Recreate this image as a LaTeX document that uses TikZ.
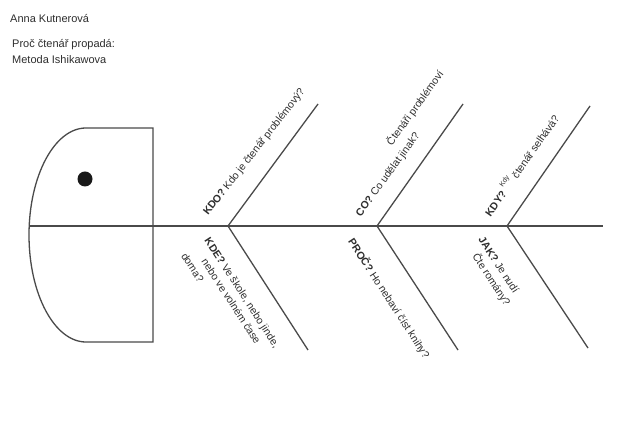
\documentclass[tikz,border=0pt]{standalone}
\usepackage{fontspec}
\setmainfont{Liberation Sans}
\definecolor{linegray}{HTML}{4A4A4A}
\definecolor{inkgray}{HTML}{2E2E2E}
\begin{document}
\begin{tikzpicture}[x=1pt,y=1pt,
  bone/.style={draw=linegray, line width=1.3pt},
  lbl/.style={text=inkgray, inner sep=1pt, align=left,
    font=\fontsize{10.5}{14}\selectfont},
  note/.style={text=inkgray, inner sep=1pt, anchor=west,
    font=\fontsize{11}{13}\selectfont}]
\useasboundingbox (0,0) rectangle (621,441);
\fill[white] (0,0) rectangle (621,441);

% title notes
\node[note] (author) at (9,422) {Anna Kutnerová};
\node[note] (question) at (11,396) {Proč čtenář propadá:};
\node[note] (method) at (11,381) {Metoda Ishikawova};

% head
\draw[bone] (86,313) -- (153,313) -- (153,99) -- (86,99)
  arc[start angle=270, end angle=90, x radius=57, y radius=107];
\fill[black!90] (85,262) circle (7.5);
\node[inner sep=0pt] (head) at (120,206) {};

% spine
\coordinate (s0) at (29,215);
\coordinate (s4) at (603,215);
\coordinate (j1) at (228,215);
\coordinate (j2) at (377,215);
\coordinate (j3) at (507,215);
\draw[bone] (s0) -- (s4);

% bone ends
\coordinate (t1) at (318,337);
\coordinate (t2) at (463,337);
\coordinate (t3) at (590,335);
\coordinate (b1) at (308,91);
\coordinate (b2) at (458,91);
\coordinate (b3) at (588,93);
\draw[bone] (j1) -- (t1);
\draw[bone] (j2) -- (t2);
\draw[bone] (j3) -- (t3);
\draw[bone] (j1) -- (b1);
\draw[bone] (j2) -- (b2);
\draw[bone] (j3) -- (b3);

% upper labels
\node[lbl, rotate=52, anchor=south west] (l1) at (210,222)
  {\textbf{KDO?} Kdo je čtenář problémový?};
\node[lbl, rotate=54, anchor=south west] (l2) at (363,221)
  {\textbf{CO?} Co udělat jinak?};
\node[lbl, rotate=54, anchor=south west] (l2b) at (394,292)
  {Čtenáři problémoví};
\node[lbl, rotate=55, anchor=south west] (l3) at (491,222)
  {\textbf{KDY?} \raisebox{1.3ex}{\scriptsize Kdy} čtenář selhává?};

% lower labels
\node[lbl, rotate=-57, anchor=north west] (l4) at (211,206)
  {\textbf{KDE?} Ve škole, nebo jinde,\\
   \hspace*{1.5em}nebo ve volném čase\\ doma?};
\node[lbl, rotate=-57, anchor=north west] (l5) at (356,206)
  {\textbf{PROČ?} Ho nebaví číst knihy?};
\node[lbl, rotate=-57, anchor=north west] (l6) at (485,207)
  {\textbf{JAK?} Je nudí\\ \hspace*{1em}Čte romány?};
\end{tikzpicture}
\end{document}
